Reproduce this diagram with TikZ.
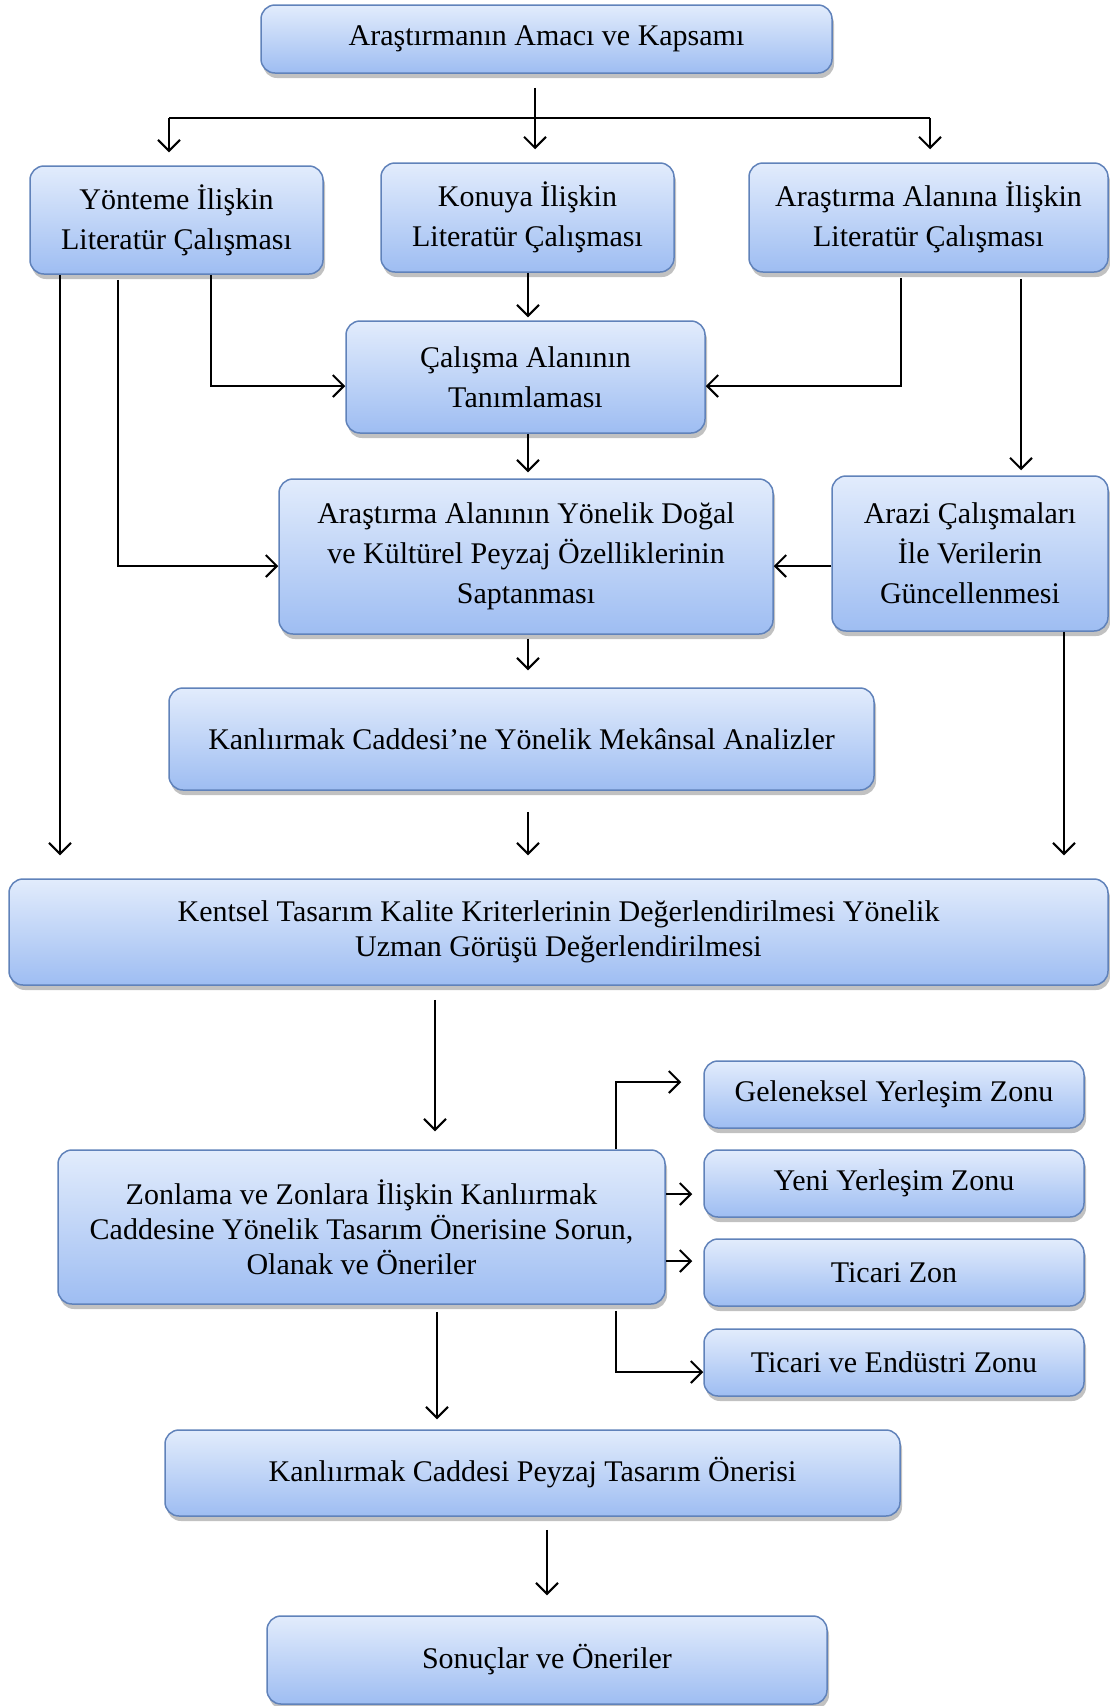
\documentclass[tikz,border=0pt]{standalone}
\usepackage{fontspec}
\setmainfont{Liberation Serif}
\usetikzlibrary{arrows.meta,shadows}

\definecolor{kutuust}{RGB}{226,236,252}
\definecolor{kutualt}{RGB}{158,189,242}
\definecolor{kutucizgi}{RGB}{96,130,186}

\tikzset{
  kutu/.style={draw=kutucizgi, line width=1.5pt, rounded corners=14pt,
    top color=kutuust, bottom color=kutualt,
    drop shadow={shadow xshift=2pt, shadow yshift=-5pt, opacity=0.35, fill=black!70},
    align=center, inner sep=0pt, font=\fontsize{30}{40}\selectfont},
  sik/.style={font=\fontsize{30}{35}\selectfont},
  ok/.style={line width=2pt, -{Straight Barb[length=11pt,width=22pt,line width=2pt]}},
  hat/.style={line width=2pt}
}

\begin{document}
\begin{tikzpicture}[x=1pt,y=-1pt]
        \useasboundingbox (0,0) rectangle (1110,1706);

        % kutular
        \node[kutu, minimum width=571pt, minimum height=68pt] (amac) at (546.5,39) {Araştırmanın Amacı ve Kapsamı};
        \node[kutu, minimum width=293pt, minimum height=108pt] (yontem) at (176.5,220) {Yönteme İlişkin\\Literatür Çalışması};
        \node[kutu, minimum width=293pt, minimum height=109pt] (konu) at (527.5,217.5) {Konuya İlişkin\\Literatür Çalışması};
        \node[kutu, minimum width=359pt, minimum height=109pt] (alan) at (928.5,217.5) {Araştırma Alanına İlişkin\\Literatür Çalışması};
        \node[kutu, minimum width=359pt, minimum height=112pt] (tanim) at (525.5,377) {Çalışma Alanının\\Tanımlaması};
        \node[kutu, minimum width=494pt, minimum height=155pt] (ozellik) at (526,556.5) {Araştırma Alanının Yönelik Doğal\\ve Kültürel Peyzaj Özelliklerinin\\Saptanması};
        \node[kutu, minimum width=276pt, minimum height=155pt] (arazi) at (970,553.5) {Arazi Çalışmaları\\İle Verilerin\\Güncellenmesi};
        \node[kutu, minimum width=705pt, minimum height=102pt] (analiz) at (521.5,739) {Kanlıırmak Caddesi’ne Yönelik Mekânsal Analizler};
        \node[kutu, sik, minimum width=1099pt, minimum height=106pt] (uzman) at (558.5,932) {Kentsel Tasarım Kalite Kriterlerinin Değerlendirilmesi Yönelik\\Uzman Görüşü Değerlendirilmesi};
        \node[kutu, sik, minimum width=607pt, minimum height=154pt] (zonlama) at (361.5,1227) {Zonlama ve Zonlara İlişkin Kanlıırmak\\Caddesine Yönelik Tasarım Önerisine Sorun,\\Olanak ve Öneriler};
        \node[kutu, minimum width=380pt, minimum height=67pt] (geleneksel) at (894,1094.5) {Geleneksel Yerleşim Zonu};
        \node[kutu, minimum width=380pt, minimum height=67pt] (yeni) at (894,1183.5) {Yeni Yerleşim Zonu};
        \node[kutu, minimum width=380pt, minimum height=67pt] (ticari) at (894,1272.5) {Ticari Zon};
        \node[kutu, minimum width=380pt, minimum height=67pt] (endustri) at (894,1362.5) {Ticari ve Endüstri Zonu};
        \node[kutu, minimum width=735pt, minimum height=86pt] (oneri) at (532.5,1473) {Kanlıırmak Caddesi Peyzaj Tasarım Önerisi};
        \node[kutu, minimum width=560pt, minimum height=88pt] (sonuc) at (547,1660) {Sonuçlar ve Öneriler};

        % ok hatlarının yerleri
        \coordinate (dal) at (535,118);
        \coordinate (dalsol) at (169,118);
        \coordinate (dalsag) at (930,118);
        \coordinate (xa) at (60,0);
        \coordinate (xb) at (118,0);
        \coordinate (xc) at (211,0);
        \coordinate (xd) at (901,0);
        \coordinate (xe) at (1021,0);
        \coordinate (xf) at (1064,0);
        \coordinate (xm) at (528,0);
        \coordinate (xu) at (435,0);
        \coordinate (xs) at (616,0);
        \coordinate (xo) at (437,0);
        \coordinate (xp) at (547,0);
        \coordinate (y1) at (0,386);
        \coordinate (y2) at (0,566);
        \coordinate (y3) at (0,1082);
        \coordinate (y4) at (0,1194);
        \coordinate (y5) at (0,1261);
        \coordinate (y6) at (0,1372);

        % amaçtan literatür kutularına
        \draw[ok, shorten <=14pt, shorten >=13pt] (amac.south -| dal) -- (konu.north -| dal);
        \draw[hat] (dalsol) -- (dalsag);
        \draw[ok, shorten >=13pt] (dalsol) -- (dalsol |- yontem.north);
        \draw[ok, shorten >=13pt] (dalsag) -- (dalsag |- alan.north);

        % yöntem literatürü
        \draw[ok, shorten >=23pt] (xa |- yontem.south) -- (xa |- uzman.north);
        \draw[ok, shorten <=5pt] (xb |- yontem.south) |- (ozellik.west |- y2);
        \draw[ok] (xc |- yontem.south) |- (tanim.west |- y1);

        % alan literatürü
        \draw[ok, shorten <=5pt] (xd |- alan.south) |- (tanim.east |- y1);
        \draw[ok, shorten <=6pt, shorten >=5pt] (xe |- alan.south) -- (xe |- arazi.north);

        % orta sütun
        \draw[ok, shorten >=3pt] (xm |- konu.south) -- (xm |- tanim.north);
        \draw[ok, shorten >=6pt] (xm |- tanim.south) -- (xm |- ozellik.north);
        \draw[ok] (arazi.west |- y2) -- (ozellik.east |- y2);
        \draw[ok, shorten <=4pt, shorten >=17pt] (xm |- ozellik.south) -- (xm |- analiz.north);
        \draw[ok, shorten <=21pt, shorten >=23pt] (xm |- analiz.south) -- (xm |- uzman.north);
        \draw[ok, shorten >=23pt] (xf |- arazi.south) -- (xf |- uzman.north);

        % zonlama
        \draw[ok, shorten <=14pt, shorten >=18pt] (xu |- uzman.south) -- (xu |- zonlama.north);
        \draw[ok, shorten >=22pt] (xs |- zonlama.north) |- (geleneksel.west |- y3);
        \draw[ok, shorten >=11pt] (zonlama.east |- y4) -- (yeni.west |- y4);
        \draw[ok, shorten >=11pt] (zonlama.east |- y5) -- (ticari.west |- y5);
        \draw[ok, shorten <=6pt] (xs |- zonlama.south) |- (endustri.west |- y6);

        % öneri ve sonuç
        \draw[ok, shorten <=7pt, shorten >=10pt] (xo |- zonlama.south) -- (xo |- oneri.north);
        \draw[ok, shorten <=13pt, shorten >=20pt] (xp |- oneri.south) -- (xp |- sonuc.north);

    \end{tikzpicture}
\end{document}
